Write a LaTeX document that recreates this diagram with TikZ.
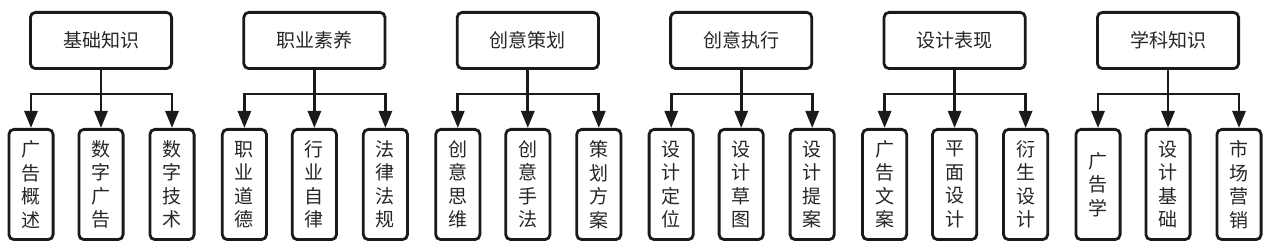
\documentclass[tikz,border=0pt]{standalone}
\usepackage{fontspec}
\setmainfont{Noto Sans CJK SC}
\usetikzlibrary{arrows.meta}
\definecolor{ink}{HTML}{1A1A1A}
\definecolor{txt}{HTML}{262626}
\begin{document}
\begin{tikzpicture}[x=1pt,y=-1pt,
  topbox/.style={draw=ink, line width=2.8pt, rounded corners=5pt,
    minimum width=141.2pt, minimum height=56.2pt, inner sep=0pt,
    text=txt, font=\fontsize{19}{19}\selectfont},
  leafbox/.style={draw=ink, line width=2.8pt, rounded corners=5pt,
    minimum width=44.2pt, minimum height=110.2pt, inner sep=0pt,
    align=center, text=txt, font=\fontsize{19}{23.5}\selectfont},
  link/.style={draw=ink, line width=2.8pt},
  arr/.style={link, -{Triangle[length=17pt,width=13pt]}}
]
\useasboundingbox (0,0) rectangle (1268,245);
\foreach \i/\t/\a/\b/\c in {
  0/基础知识/广\\告\\概\\述/数\\字\\广\\告/数\\字\\技\\术,
  1/职业素养/职\\业\\道\\德/行\\业\\自\\律/法\\律\\法\\规,
  2/创意策划/创\\意\\思\\维/创\\意\\手\\法/策\\划\\方\\案,
  3/创意执行/设\\计\\定\\位/设\\计\\草\\图/设\\计\\提\\案,
  4/设计表现/广\\告\\文\\案/平\\面\\设\\计/衍\\生\\设\\计,
  5/学科知识/广\\告\\学/设\\计\\基\\础/市\\场\\营\\销}{
  \pgfmathsetmacro{\L}{29+213.4*\i}
  \node[topbox] (t\i) at (\L+72,40.5) {\t};
  \node[leafbox] (a\i) at (\L+2,184.5) {\a};
  \node[leafbox] (b\i) at (\L+72,184.5) {\b};
  \node[leafbox] (c\i) at (\L+143,184.5) {\c};
  \coordinate (j\i) at (\L+72,94);
  \draw[link] (t\i.south) -- (j\i);
  \draw[arr] (j\i) -| (a\i.north);
  \draw[arr] (j\i) -| (c\i.north);
  \draw[arr] (j\i) -- (b\i.north);
}
\end{tikzpicture}
\end{document}
